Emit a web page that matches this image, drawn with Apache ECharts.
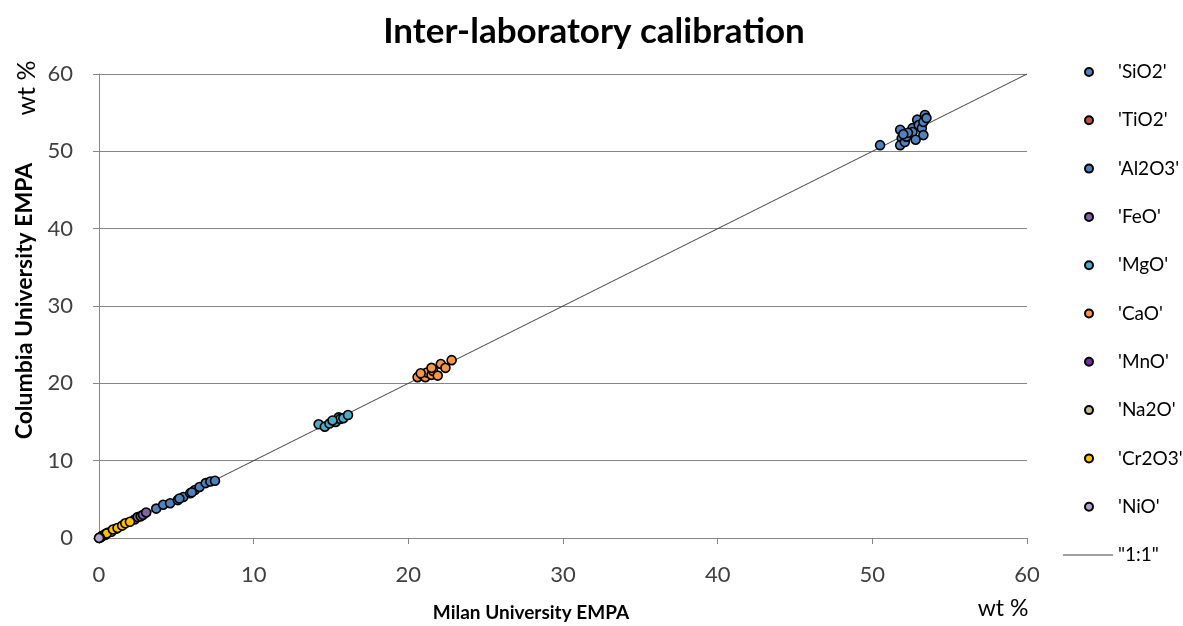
<!DOCTYPE html>
<html>
<head>
<meta charset="utf-8">
<script src="https://cdn.jsdelivr.net/npm/echarts@6/dist/echarts.min.js"></script>
<style>html,body{margin:0;padding:0;background:#fff}#c{width:1183px;height:626px}</style>
</head>
<body>
<div id="c"></div>
<script>
// [Milan, Columbia] pairs (wt %)
const SiO2 = [[50.5,50.8],[51.8,52.8],[51.9,51.7],[51.8,50.8],[52.1,51.2],[52.2,51.9],[52.6,53.0],[52.6,52.5],[52.8,51.5],[52.9,54.1],[53.0,53.4],[53.2,53.0],[53.3,53.8],[53.4,54.7],[53.5,54.3],[53.3,52.1],[52.3,52.4],[52.0,52.2]];
const TiO2 = [[0.2,0.3],[0.4,0.4],[0.6,0.7]];
const Al2O3 = [[3.7,3.8],[4.15,4.3],[4.6,4.5],[5.1,4.9],[5.45,5.3],[5.9,5.8],[6.2,6.2],[6.5,6.6],[6.9,7.1],[7.2,7.3],[7.5,7.4],[5.2,5.1],[6.0,5.9]];
const FeO = [[2.3,2.4],[2.5,2.7],[2.7,2.8],[2.85,3.0],[3.05,3.3]];
const MgO = [[14.2,14.7],[14.6,14.4],[14.9,14.8],[15.3,15.0],[15.5,15.6],[15.6,15.4],[15.8,15.5],[16.1,15.9],[15.1,15.2]];
const CaO = [[20.6,20.8],[20.9,21.1],[21.1,20.8],[21.2,21.4],[21.5,21.1],[21.6,21.6],[21.5,22.0],[21.9,21.0],[22.1,22.5],[22.4,22.0],[22.8,23.0],[20.8,21.3]];
const MnO = [[0.1,0.1],[0.12,0.12]];
const Na2O = [[0.4,0.5],[0.8,0.8],[1.1,1.2]];
const Cr2O3 = [[0.5,0.6],[0.9,1.1],[1.2,1.3],[1.5,1.6],[1.7,1.9],[2.0,2.1]];
const NiO = [[0.05,0.05],[0.0,0.0]];
const oneToOne = [[0,0],[60,60]];

const names = ["'SiO2'","'TiO2'","'Al2O3'","'FeO'","'MgO'","'CaO'","'MnO'","'Na2O'","'Cr2O3'","'NiO'"];
const sets = [SiO2,TiO2,Al2O3,FeO,MgO,CaO,MnO,Na2O,Cr2O3,NiO];
const colors = ['#4F81BD','#C0504D','#4F81BD','#8064A2','#4BACC6','#F79646','#7030A0','#C4BD97','#FFC000','#B3A2C7'];
const lineName = '"1:1"';
const titleText = 'Inter-laboratory calibration';
const yName = 'Columbia University EMPA';
const xName = 'Milan University EMPA';
const unitName = 'wt %';

const font = 'Lato, "Open Sans", sans-serif';
const series = sets.map((d,i)=>({
  name: names[i], type:'scatter', data:d, symbol:'circle', symbolSize:9,
  itemStyle:{color:colors[i], borderColor:'#000', borderWidth:1.6, opacity:1},
  emphasis:{disabled:true}
}));
series.unshift({
  name: lineName, type:'line', data: oneToOne, symbol:'none', showSymbol:false,
  itemStyle:{color:'#404040'},
  lineStyle:{color:'#404040', width:1}, z:1, emphasis:{disabled:true}
});

const chart = echarts.init(document.getElementById('c'));
chart.setOption({
  animation:false,
  backgroundColor:'#fff',
  grid:{left:99, right:156, top:74, bottom:88},
  xAxis:{type:'value', min:0, max:60, interval:10,
    axisLine:{show:true, onZero:false, lineStyle:{color:'#868686'}},
    axisTick:{show:true, length:6, lineStyle:{color:'#868686'}},
    axisLabel:{fontFamily:font, fontSize:22, color:'#404040', margin:26},
    splitLine:{show:false}},
  yAxis:{type:'value', min:0, max:60, interval:10,
    axisLine:{show:true, onZero:false, lineStyle:{color:'#868686'}},
    axisTick:{show:true, length:6, lineStyle:{color:'#868686'}},
    axisLabel:{fontFamily:font, fontSize:22, color:'#404040', margin:26},
    splitLine:{show:true, lineStyle:{color:'#868686', width:1}}},
  legend:[
    {orient:'vertical', left:1084, top:61, padding:0, itemWidth:20, itemHeight:8, itemGap:26.3,
     data: names,
     textStyle:{fontFamily:font, fontSize:19, color:'#000', lineHeight:22, width:40, overflow:'none', padding:[0,0,0,14]}},
    {orient:'vertical', left:1063, top:544, padding:0, itemWidth:50, itemHeight:1,
     data: [{name: lineName, icon:'rect'}],
     textStyle:{fontFamily:font, fontSize:19, color:'#000', lineHeight:22}}
  ],
  graphic:[
    {type:'text', x:594, y:32, style:{text:titleText, font:'bold 35px '+font, fill:'#000', align:'center', verticalAlign:'middle'}},
    {type:'text', x:25, y:301, rotation:Math.PI/2, style:{text:yName, font:'bold 23px '+font, fill:'#000', align:'center', verticalAlign:'middle'}},
    {type:'text', x:27, y:88, rotation:Math.PI/2, style:{text:unitName, font:'25px '+font, fill:'#000', align:'center', verticalAlign:'middle'}},
    {type:'text', x:531, y:613, style:{text:xName, font:'bold 19px '+font, fill:'#000', align:'center', verticalAlign:'middle'}},
    {type:'text', x:1003, y:609, style:{text:unitName, font:'23px '+font, fill:'#000', align:'center', verticalAlign:'middle'}}
  ],
  series: series
});
</script>
</body>
</html>
